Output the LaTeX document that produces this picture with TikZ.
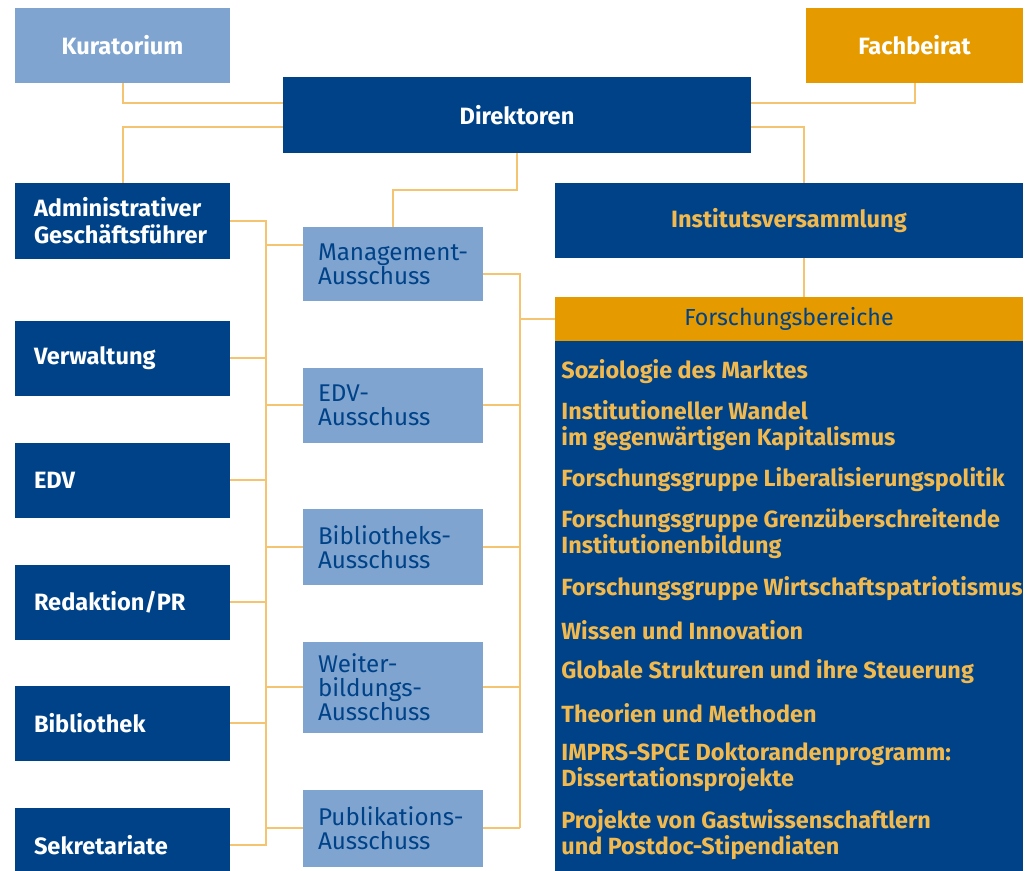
\documentclass[tikz,border=0pt]{standalone}
\usepackage{fontspec}
\setmainfont{Fira Sans}
\usepackage{tikz}
\usetikzlibrary{calc}
\definecolor{mpiblue}{RGB}{0,66,136}
\definecolor{mpilight}{RGB}{127,164,208}
\definecolor{mpiorange}{RGB}{229,154,0}
\definecolor{mpiline}{RGB}{245,196,112}
\definecolor{mpiyellow}{RGB}{242,186,78}
\tikzset{
 box/.style={inner sep=0pt, outer sep=0pt, anchor=north west, font=\bfseries\fontsize{11.8}{13.5}\selectfont},
 darkbox/.style={box, fill=mpiblue, text=white},
 lightbox/.style={box, fill=mpilight, text=mpiblue, font=\fontsize{12.1}{12}\selectfont},
 orangebox/.style={box, fill=mpiorange, text=white},
 leftbox/.style={minimum height=37.5pt, text width=88.5pt, inner xsep=9.5pt, align=left},
 midbox/.style={text width=75pt, inner xsep=7.5pt, align=left},
 link/.style={mpiline, line width=1pt},
 item/.style={anchor=west, align=left, text=mpiyellow, inner sep=0pt, font=\bfseries\fontsize{11.7}{13}\selectfont}
}

\begin{document}
\begin{tikzpicture}[x=0.5pt, y=-0.5pt]
\clip (0,0) rectangle (1025,871);
% top row
\node[lightbox, font=\bfseries\fontsize{11.8}{13}\selectfont, text=white, minimum width=107.5pt, minimum height=37.5pt] (kur) at (15,8) {Kuratorium};
\node[orangebox, minimum width=108.5pt, minimum height=37.5pt] (fach) at (806,8) {Fachbeirat};
\node[darkbox, minimum width=234pt, minimum height=38pt] (dir) at (283,77) {Direktoren};
\node[darkbox, text=mpiyellow, minimum width=234pt, minimum height=37.5pt] (inst) at (555,183) {Institutsversammlung};
% left column
\node[darkbox, leftbox, minimum height=38pt] (adm) at (15,183) {Administrativer\\Gesch\"aftsf\"uhrer};
\foreach \nm/\y/\txt in {verw/321/Verwaltung, edv/443/EDV, redpr/565/{Redaktion/PR}, bib/686/Bibliothek, sek/808/Sekretariate}
 \node[darkbox, leftbox] (\nm) at (15,\y) {\txt};
% committees
\foreach \nm/\y/\h/\txt in {mgmt/227/37pt/{\mbox{Management-}\\Ausschuss}, edva/368/37.5pt/{\mbox{EDV-}\\Ausschuss}, biba/509/38pt/{\mbox{Bibliotheks-}\\Ausschuss}, weia/642/45.5pt/{\mbox{Weiter-}\\\mbox{bildungs-}\\Ausschuss}, puba/790/38.5pt/{\mbox{Publikations-}\\Ausschuss}}
 \node[lightbox, midbox, minimum height=\h] (\nm) at (303,\y) {\txt};
% research areas
\node[orangebox, text=mpiblue, font=\fontsize{11.6}{13}\selectfont, minimum width=234pt, minimum height=22pt] (fhead) at (555,297) {Forschungsbereiche};
\node[darkbox, minimum width=234pt, minimum height=270pt] (fbody) at (555,341) {};
\foreach \y/\txt [count=\i] in {372/{Soziologie des Marktes}, 426/{Institutioneller Wandel\\im gegenw\"artigen Kapitalismus}, 480/{Forschungsgruppe Liberalisierungspolitik}, 534/{Forschungsgruppe Grenz\"uberschreitende\\Institutionenbildung}, 589/{Forschungsgruppe Wirtschaftspatriotismus}, 630/{Wissen und Innovation}, 672/{Globale Strukturen und ihre Steuerung}, 713/{Theorien und Methoden}, 767/{IMPRS-SPCE Doktorandenprogramm:\\Dissertationsprojekte}, 835/{Projekte von Gastwissenschaftlern\\und Postdoc-Stipendiaten}}
 \node[item] (area\i) at (561,\y) {\txt};
% connectors
\coordinate (lbus) at (266,0);
\coordinate (rbus) at (520,0);
\coordinate (mgmtl) at ([yshift=9.5pt]mgmt.west);
\coordinate (mgmtr) at ([yshift=-5pt]mgmt.east);
\draw[link] (kur.south) |- ([yshift=6pt]dir.west);
\draw[link] ([yshift=-6pt]dir.west) -| (adm.north);
\draw[link] (fach.south) |- ([yshift=6pt]dir.east);
\draw[link] ([yshift=-6pt]dir.east) -| ([xshift=7.5pt]inst.north);
\draw[link] (dir.south) -- ++(0,37) -| (mgmt.north);
\draw[link] ([xshift=7.5pt]inst.south) -- ([xshift=7.5pt]fhead.north);
\draw[link] (adm.east) -| (lbus |- sek.east) -- (sek.east);
\foreach \nm in {verw,edv,redpr,bib}
 \draw[link] (\nm.east) -- (lbus |- \nm.east);
\draw[link] (mgmtl) -- (lbus |- mgmtl);
\foreach \nm in {edva,biba,weia,puba} {
 \draw[link] (lbus |- \nm.west) -- (\nm.west);
 \draw[link] (\nm.east) -- (rbus |- \nm.east);
}
\draw[link] (mgmtr) -| (rbus |- puba.east);
\draw[link] (rbus |- fhead.west) -- (fhead.west);
\end{tikzpicture}
\end{document}
